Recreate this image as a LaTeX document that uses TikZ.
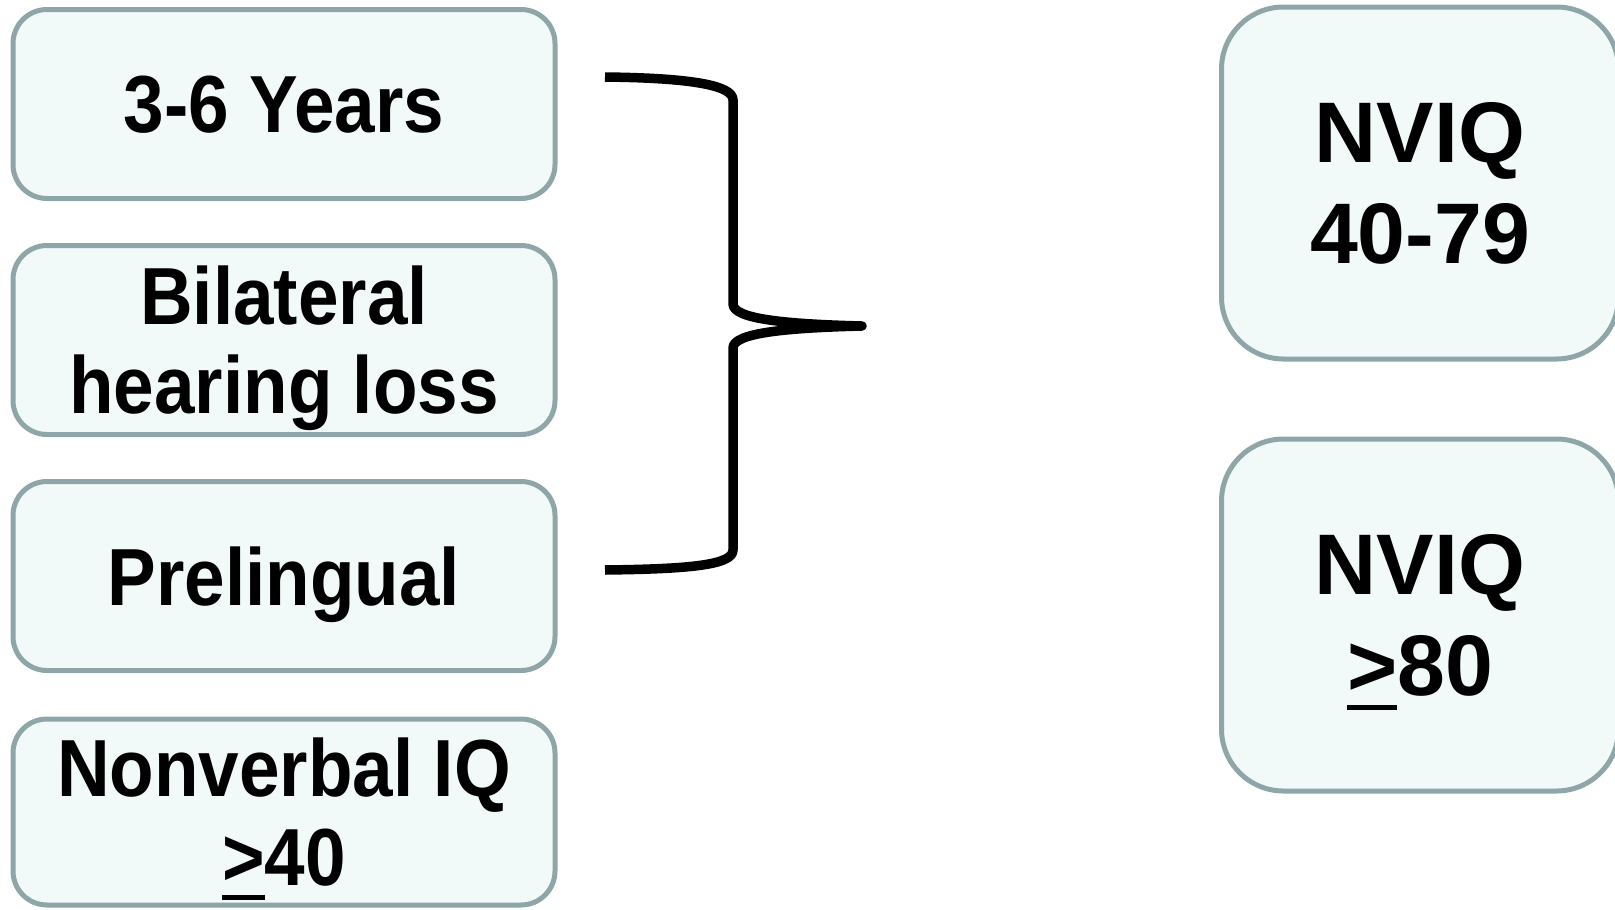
\documentclass[tikz,border=0pt]{standalone}
\usepackage{fontspec}
\usepackage{tikz}
\usetikzlibrary{positioning}
\newfontfamily\narrowbold[FakeStretch=0.9]{Liberation Sans}
\newfontfamily\widebold{Liberation Sans}
\definecolor{boxline}{RGB}{142,166,168}
\definecolor{boxfill}{RGB}{241,249,249}
% underlined sign, with a heavy rule
\newlength{\ulwd}
\newcommand{\ulmark}[1]{\settowidth{\ulwd}{#1}\rlap{\rule[-14pt]{\ulwd}{5pt}}#1}
\tikzset{
  critbox/.style={draw=boxline,fill=boxfill,line width=5pt,rounded corners=34pt,
    minimum width=542pt,minimum height=189pt,inner sep=0pt,align=center,text depth=0pt,
    font=\narrowbold\bfseries\fontsize{81}{89}\selectfont},
  iqbox/.style={draw=boxline,fill=boxfill,line width=5pt,rounded corners=62pt,
    minimum width=397pt,minimum height=352pt,inner sep=0pt,align=center,text depth=0pt,
    font=\widebold\bfseries\fontsize{86}{101}\selectfont},
  bracket/.style={line width=9.5pt,line join=round}
}
\begin{document}
\begin{tikzpicture}[x=1pt,y=-1pt,node distance=236pt]
	 \useasboundingbox (0,0) rectangle (1615,910);
	 \clip (0,0) rectangle (1615,910);
	 \node[critbox] (age) at (284,104) {3-6 Years};
	 \node[critbox] (hearing) [below of=age] {Bilateral\\hearing loss};
	 \node[critbox] (onset) [below of=hearing] {Prelingual};
	 \node[critbox,minimum height=186pt] (nviq) [below of=onset] {Nonverbal IQ\\\ulmark{>}40};
	 \node[iqbox] (low) at (1420,183) {NVIQ\\40-79};
	 \node[iqbox] (high) [below of=low,node distance=432pt] {NVIQ\\\ulmark{>}80};
	 % brace ends and tip
	 \coordinate (bracetop) at (605,77);
	 \coordinate (bracebot) at (605,570);
	 \coordinate (bracetip) at (862,326);
	 \draw[bracket] (bracetop) .. controls (690,78) and (733,85) .. (733,100)
	   -- (733,304) .. controls (733,319) and (785,324) .. (bracetip)
	   .. controls (785,328) and (733,333) .. (733,348)
	   -- (733,550) .. controls (733,565) and (690,569) .. (bracebot);
\end{tikzpicture}
\end{document}
